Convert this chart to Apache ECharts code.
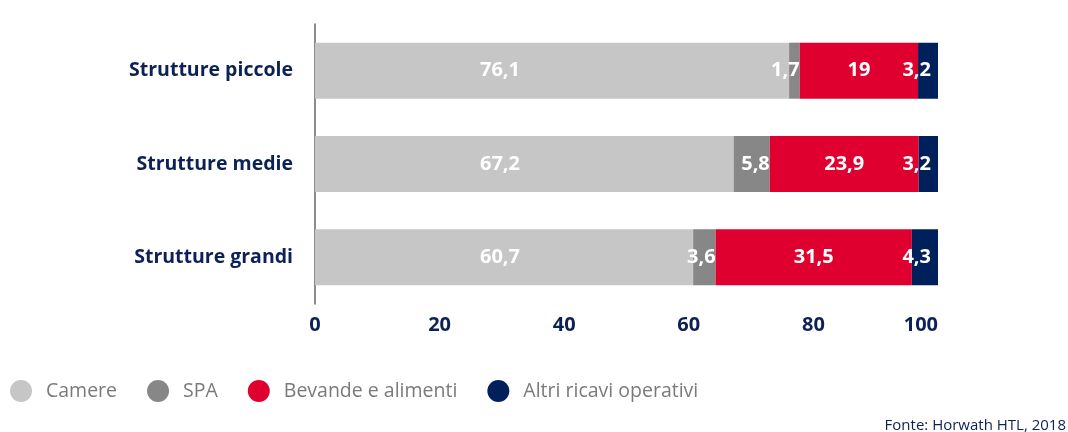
<!DOCTYPE html>
<html>
<head>
<meta charset="utf-8">
<script src="https://cdn.jsdelivr.net/npm/echarts@6/dist/echarts.min.js"></script>
<style>
  html, body { margin: 0; padding: 0; background: #fff; }
  #main { width: 1068px; height: 432px; }
</style>
</head>
<body>
<div id="main"></div>
<script>
// dati
var categorie = ['Strutture grandi', 'Strutture medie', 'Strutture piccole'];
var camere = [60.7, 67.2, 76.1];
var spa = [3.6, 5.8, 1.7];
var bevande = [31.5, 23.9, 19];
var altri = [4.3, 3.2, 3.2];
var tickValori = [0, 20, 40, 60, 80, 100];

var navy = '#0c2157';
var font = '"Open Sans"';

function virgola(p) {
    return String(p.value).replace('.', ',');
}

var myChart = echarts.init(document.getElementById('main'));

var etichetta = {
    show: true,
    color: '#fff',
    fontFamily: font,
    fontWeight: 'bold',
    fontSize: 20,
    formatter: virgola
};

option = {
    animation: false,
    grid: {
        left: 315,
        width: 623,
        top: 24,
        height: 280
    },
    legend: {
        left: 10,
        top: 380,
        padding: 0,
        icon: 'circle',
        itemWidth: 22,
        itemHeight: 22,
        itemGap: 30,
        textStyle: {
            color: '#7a7a7a',
            fontFamily: font,
            fontSize: 19.5,
            padding: [0, 0, 0, 9]
        },
        data: ['Camere', 'SPA', 'Bevande e alimenti', 'Altri ricavi operativi']
    },
    xAxis: {
        type: 'value',
        min: 0,
        max: 100,
        interval: 20,
        splitLine: { show: false },
        axisLine: { show: false },
        axisTick: { show: false },
        axisLabel: {
            color: navy,
            fontFamily: font,
            fontWeight: 'bold',
            fontSize: 20,
            margin: 11,
            alignMaxLabel: 'right',
            customValues: tickValori
        }
    },
    yAxis: {
        type: 'category',
        data: categorie,
        offset: 4,
        axisLine: { show: true, lineStyle: { color: '#666', width: 1.5 } },
        axisTick: { show: false },
        axisLabel: {
            color: navy,
            fontFamily: font,
            fontWeight: 'bold',
            fontSize: 19.5,
            margin: 18
        }
    },
    series: [
        {
            name: 'Camere',
            type: 'bar',
            stack: 'tot',
            barWidth: 56,
            data: camere,
            itemStyle: { color: '#c6c6c6' },
            label: Object.assign({}, etichetta, { position: [185, '50%'], align: 'center', verticalAlign: 'middle' })
        },
        {
            name: 'SPA',
            type: 'bar',
            stack: 'tot',
            data: spa,
            itemStyle: { color: '#878787' },
            label: Object.assign({}, etichetta, { position: 'insideRight', distance: 0 })
        },
        {
            name: 'Bevande e alimenti',
            type: 'bar',
            stack: 'tot',
            data: bevande,
            itemStyle: { color: '#e0002f' },
            label: Object.assign({}, etichetta, { position: 'inside' })
        },
        {
            name: 'Altri ricavi operativi',
            type: 'bar',
            stack: 'tot',
            data: altri,
            itemStyle: { color: '#00205b' },
            label: Object.assign({}, etichetta, { position: 'insideRight', distance: 7 })
        }
    ],
    graphic: [
        {
            type: 'text',
            right: 2,
            top: 418,
            style: {
                text: 'Fonte: Horwath HTL, 2018',
                fill: navy,
                font: '15px "Open Sans"'
            }
        }
    ]
};

myChart.setOption(option);
</script>
</body>
</html>
